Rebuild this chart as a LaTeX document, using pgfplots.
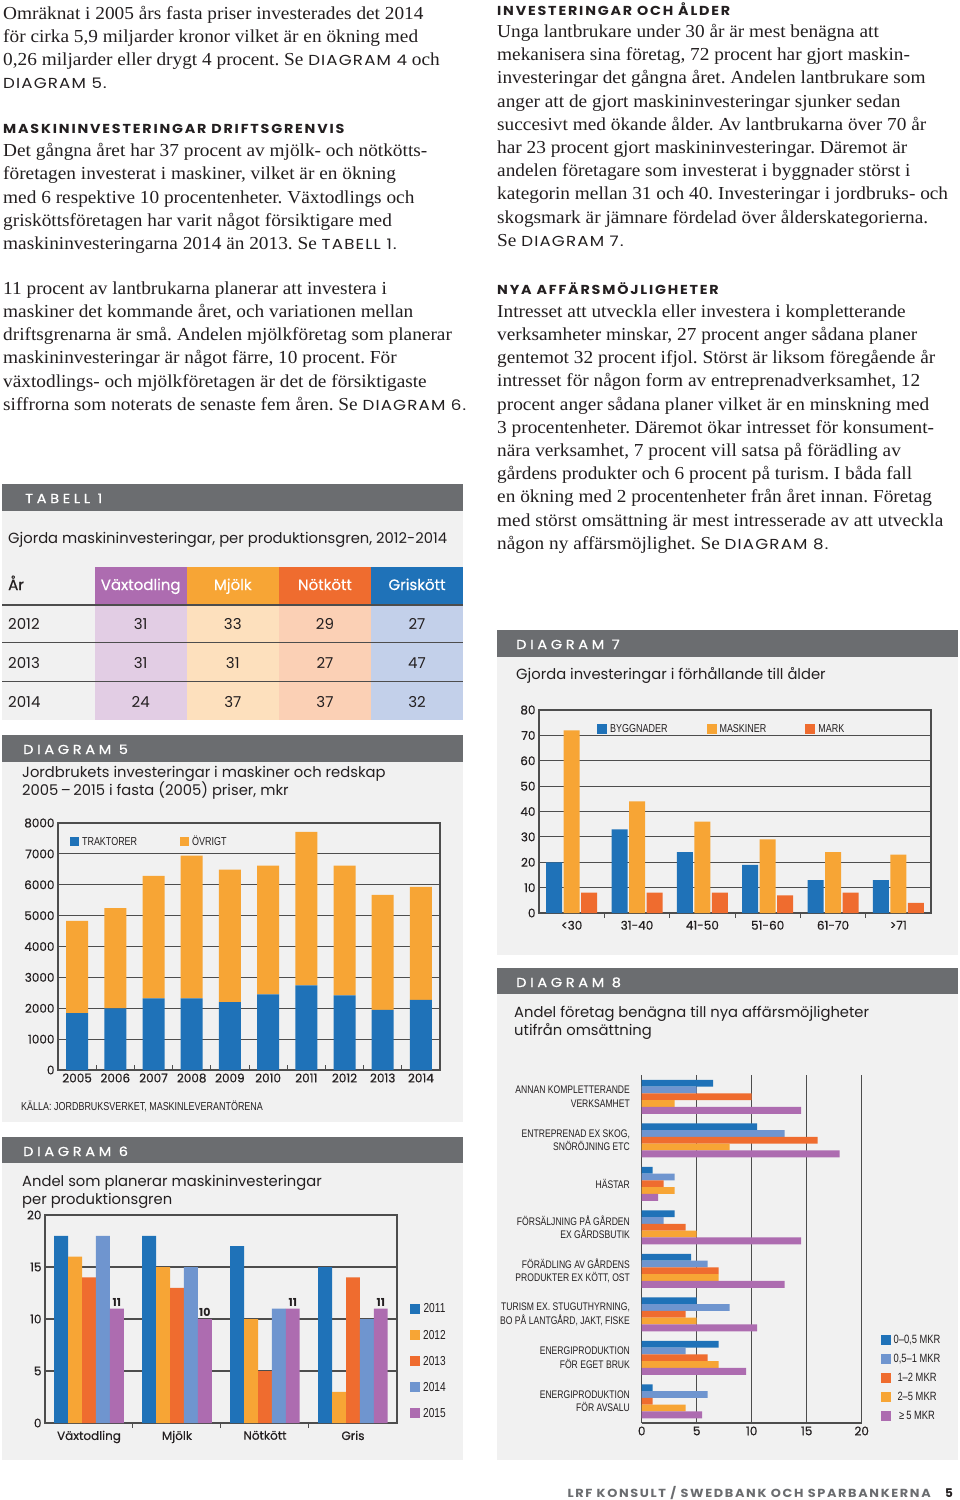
\documentclass[border=0pt]{standalone}
\usepackage{fontspec}
\usepackage{pgfplots}
\pgfplotsset{compat=1.18}
\setmainfont{Liberation Serif}[FakeStretch=1.055]
\setsansfont{Poppins}
\newfontfamily\condfont[FakeStretch=0.78]{Liberation Sans}
\newfontfamily\medfont[FakeBold=0.5]{Poppins}
\newfontfamily\headfont[LetterSpace=14,FakeStretch=1.1]{Poppins}
\newfontfamily\bandfont[LetterSpace=28,FakeBold=0.6,FakeStretch=1.12]{Poppins}
\newfontfamily\reffont[LetterSpace=8,FakeStretch=1.15]{Poppins}

\definecolor{cblue}{HTML}{1F72B8}
\definecolor{corange}{HTML}{F7A535}
\definecolor{cred}{HTML}{EF6C2F}
\definecolor{clblue}{HTML}{6F95CF}
\definecolor{cpurple}{HTML}{AD6CB0}
\definecolor{band}{HTML}{6B6D70}
\definecolor{panel}{HTML}{F1F1F1}
\definecolor{tpurple}{HTML}{E2CDE4}
\definecolor{torange}{HTML}{FDE0BD}
\definecolor{tpeach}{HTML}{FBD0B5}
\definecolor{tblue}{HTML}{C3D0EA}
\definecolor{gridc}{HTML}{4D4D4D}
\definecolor{txt}{HTML}{231F20}

\frenchspacing
\newcommand{\bodyfont}{\fontsize{18.3}{21}\selectfont}
\newcommand{\dref}[1]{{\reffont\fontsize{14.5}{16}\selectfont #1}}
\newcommand{\tl}[3]{\node[anchor=base west,inner sep=0pt,text=txt,font=\bodyfont] at (#1pt,-#2pt) {#3};}
\newcommand{\hd}[3]{\node[anchor=base west,inner sep=0pt,text=txt,font=\headfont\bfseries\fontsize{13}{15}\selectfont] at (#1pt,-#2pt) {#3};}
\newcommand{\sub}[3]{\node[anchor=base west,inner sep=0pt,text=txt,font=\sffamily\fontsize{14.75}{17}\selectfont] at (#1pt,-#2pt) {#3};}
\newcommand{\bandtxt}[3]{\node[anchor=base west,inner sep=0pt,text=white,font=\bandfont\fontsize{13}{15}\selectfont] at (#1pt,-#2pt) {#3};}
\newcommand{\tnum}[3]{\node[anchor=base,inner sep=0pt,text=txt,font=\sffamily\fontsize{15}{18}\selectfont] at (#1pt,-#2pt) {#3};}
\newcommand{\thd}[3]{\node[anchor=base,inner sep=0pt,text=white,font=\medfont\fontsize{15}{18}\selectfont] at (#1pt,-#2pt) {#3};}

\pgfplotsset{
  page/.style={
    scale only axis,
    anchor=south west,
    axis line style={gridc,line width=1.2pt},
    grid style={gridc,line width=1.2pt},
    tick style={gridc,line width=1pt},
    ticklabel style={font=\medfont\fontsize{12}{14}\selectfont,text=txt},
    /pgf/number format/assume math mode=true,
    /pgf/number format/1000 sep={},
    legend style={draw=none,fill=none,inner sep=0pt,font=\condfont\fontsize{11.5}{13}\selectfont,text=txt},
  }
}

\begin{document}
\begin{tikzpicture}
\useasboundingbox (0pt,0pt) rectangle (960pt,-1500pt);
\fill[white] (0pt,0pt) rectangle (960pt,-1500pt);

% ---------- left column text
\tl{3}{19}{Omräknat i 2005 års fasta priser investerades det 2014}
\tl{3}{42.2}{för cirka 5,9 miljarder kronor vilket är en ökning med}
\tl{3}{65.4}{0,26 miljarder eller drygt 4 procent. Se \dref{DIAGRAM 4} och}
\tl{3}{88.3}{\dref{DIAGRAM 5.}}
\hd{3}{133.5}{MASKININVESTERINGAR DRIFTSGRENVIS}
\tl{3}{156.7}{Det gångna året har 37 procent av mjölk- och nötkötts-}
\tl{3}{179.9}{företagen investerat i maskiner, vilket är en ökning}
\tl{3}{203.1}{med 6 respektive 10 procentenheter. Växtodlings och}
\tl{3}{226.3}{grisköttsföretagen har varit något försiktigare med}
\tl{3}{249.5}{maskininvesteringarna 2014 än 2013. Se \dref{TABELL 1.}}
\tl{3}{294.3}{11 procent av lantbrukarna planerar att investera i}
\tl{3}{317.5}{maskiner det kommande året, och variationen mellan}
\tl{3}{340.7}{driftsgrenarna är små. Andelen mjölkföretag som planerar}
\tl{3}{363.9}{maskininvesteringar är något färre, 10 procent. För}
\tl{3}{387.1}{växtodlings- och mjölkföretagen är det de försiktigaste}
\tl{3}{410.3}{siffrorna som noterats de senaste fem åren. Se \dref{DIAGRAM 6.}}

% ---------- right column text
\hd{497}{15}{INVESTERINGAR OCH ÅLDER}
\tl{497}{37.5}{Unga lantbrukare under 30 år är mest benägna att}
\tl{497}{60.7}{mekanisera sina företag, 72 procent har gjort maskin-}
\tl{497}{83.9}{investeringar det gångna året. Andelen lantbrukare som}
\tl{497}{107.1}{anger att de gjort maskininvesteringar sjunker sedan}
\tl{497}{130.3}{succesivt med ökande ålder. Av lantbrukarna över 70 år}
\tl{497}{153.5}{har 23 procent gjort maskininvesteringar. Däremot är}
\tl{497}{176.7}{andelen företagare som investerat i byggnader störst i}
\tl{497}{199.9}{kategorin mellan 31 och 40. Investeringar i jordbruks- och}
\tl{497}{223.1}{skogsmark är jämnare fördelad över ålderskategorierna.}
\tl{497}{246.3}{Se \dref{DIAGRAM 7.}}
\hd{497}{294}{NYA AFFÄRSMÖJLIGHETER}
\tl{497}{317.3}{Intresset att utveckla eller investera i kompletterande}
\tl{497}{340.5}{verksamheter minskar, 27 procent anger sådana planer}
\tl{497}{363.7}{gentemot 32 procent ifjol. Störst är liksom föregående år}
\tl{497}{386.9}{intresset för någon form av entreprenadverksamhet, 12}
\tl{497}{410.1}{procent anger sådana planer vilket är en minskning med}
\tl{497}{433.3}{3 procentenheter. Däremot ökar intresset för konsument-}
\tl{497}{456.5}{nära verksamhet, 7 procent vill satsa på förädling av}
\tl{497}{479.7}{gårdens produkter och 6 procent på turism. I båda fall}
\tl{497}{502.9}{en ökning med 2 procentenheter från året innan. Företag}
\tl{497}{526.1}{med störst omsättning är mest intresserade av att utveckla}
\tl{497}{549.3}{någon ny affärsmöjlighet. Se \dref{DIAGRAM 8.}}

% ---------- table 1
\fill[panel] (2pt,-511pt) rectangle (463pt,-720pt);
\fill[band] (2pt,-484pt) rectangle (463pt,-511pt);
\bandtxt{25}{503}{TABELL 1}
\sub{8}{543}{Gjorda maskininvesteringar, per produktionsgren, 2012-2014}
\fill[cpurple] (95pt,-567pt) rectangle (186.5pt,-605pt);
\fill[corange] (186.5pt,-567pt) rectangle (279pt,-605pt);
\fill[cred] (279pt,-567pt) rectangle (371pt,-605pt);
\fill[cblue] (371pt,-567pt) rectangle (463pt,-605pt);
\fill[tpurple] (95pt,-605pt) rectangle (186.5pt,-720pt);
\fill[torange] (186.5pt,-605pt) rectangle (279pt,-720pt);
\fill[tpeach] (279pt,-605pt) rectangle (371pt,-720pt);
\fill[tblue] (371pt,-605pt) rectangle (463pt,-720pt);
\node[anchor=base west,inner sep=0pt,text=txt,font=\medfont\fontsize{15}{18}\selectfont] at (8pt,-590pt) {År};
\thd{140.7}{590}{Växtodling}
\thd{232.8}{590}{Mjölk}
\thd{325}{590}{Nötkött}
\thd{417}{590}{Griskött}
\draw[gridc,line width=1.4pt] (2pt,-605pt) -- (463pt,-605pt);
\draw[gridc,line width=1.4pt] (2pt,-642.7pt) -- (463pt,-642.7pt);
\draw[gridc,line width=1.4pt] (2pt,-681.3pt) -- (463pt,-681.3pt);
\node[anchor=base west,inner sep=0pt,text=txt,font=\sffamily\fontsize{15}{18}\selectfont] at (8pt,-629pt) {2012};
\node[anchor=base west,inner sep=0pt,text=txt,font=\sffamily\fontsize{15}{18}\selectfont] at (8pt,-668pt) {2013};
\node[anchor=base west,inner sep=0pt,text=txt,font=\sffamily\fontsize{15}{18}\selectfont] at (8pt,-707pt) {2014};
\tnum{140.7}{629}{31}\tnum{232.8}{629}{33}\tnum{325}{629}{29}\tnum{417}{629}{27}
\tnum{140.7}{668}{31}\tnum{232.8}{668}{31}\tnum{325}{668}{27}\tnum{417}{668}{47}
\tnum{140.7}{707}{24}\tnum{232.8}{707}{37}\tnum{325}{707}{37}\tnum{417}{707}{32}

% ---------- panels
\fill[panel] (2pt,-762pt) rectangle (463pt,-1122pt);
\fill[band] (2pt,-735pt) rectangle (463pt,-762pt);
\bandtxt{23}{754}{DIAGRAM 5}
\sub{22}{777.5}{Jordbrukets investeringar i maskiner och redskap}
\sub{22}{795.5}{2005\,–\,2015 i fasta (2005) priser, mkr}
\node[anchor=base west,inner sep=0pt,text=txt,font=\condfont\fontsize{11.5}{13}\selectfont] at (21pt,-1110pt) {KÄLLA: JORDBRUKSVERKET, MASKINLEVERANTÖRENA};

\fill[panel] (2pt,-1163pt) rectangle (463pt,-1460pt);
\fill[band] (2pt,-1137pt) rectangle (463pt,-1163pt);
\bandtxt{23}{1156}{DIAGRAM 6}
\sub{22}{1186.5}{Andel som planerar maskininvesteringar}
\sub{22}{1204.5}{per produktionsgren}

\fill[panel] (497pt,-657pt) rectangle (958pt,-955pt);
\fill[band] (497pt,-630pt) rectangle (958pt,-657pt);
\bandtxt{516}{649}{DIAGRAM 7}
\sub{516}{679.3}{Gjorda investeringar i förhållande till ålder}

\fill[panel] (497pt,-994pt) rectangle (958pt,-1460pt);
\fill[band] (497pt,-968pt) rectangle (958pt,-994pt);
\bandtxt{516}{987}{DIAGRAM 8}
\sub{514}{1017.5}{Andel företag benägna till nya affärsmöjligheter}
\sub{514}{1035.5}{utifrån omsättning}

% ---------- Diagram 5
\begin{axis}[page, at={(58pt,-1070pt)}, width=382pt, height=247pt,
  ybar stacked, bar width=22pt,
  xmin=-0.5, xmax=9.5, ymin=0, ymax=8000,
  ytick={0,1000,...,8000}, ymajorgrids, ytick style={draw=none},
  xtick={0,...,9}, xticklabels={2005,2006,2007,2008,2009,2010,2011,2012,2013,2014},
  major x tick style={draw=none},
  minor xtick={0.5,1.5,...,8.5}, minor tick length=5pt,
  xtick pos=bottom,
  legend columns=2,
  legend style={at={(0.031,0.955)},anchor=north west,
    /tikz/every even column/.append style={column sep=40pt}},
  legend image code/.code={\fill[#1] (0pt,-4.5pt) rectangle (9pt,4.5pt);},
  legend style={nodes={inner xsep=3pt}},
]
\addplot[fill=cblue,draw=none] coordinates {(0,1840) (1,2000) (2,2320) (3,2320) (4,2200) (5,2450) (6,2740) (7,2420) (8,1950) (9,2270)};
\addplot[fill=corange,draw=none] coordinates {(0,2990) (1,3240) (2,3970) (3,4620) (4,4290) (5,4170) (6,4970) (7,4200) (8,3720) (9,3660)};
\legend{TRAKTORER,ÖVRIGT}
\end{axis}

% ---------- Diagram 6
\begin{axis}[page, at={(45pt,-1423pt)}, width=352pt, height=208pt,
  ybar=0pt, bar width=13.9pt,
  xmin=-0.5, xmax=3.5, ymin=0, ymax=20,
  ytick={0,5,...,20}, ymajorgrids, ytick style={draw=none},
  xtick={0,...,3}, xticklabels={Växtodling,Mjölk,Nötkött,Gris},
  major x tick style={draw=none},
  minor xtick={0.5,1.5,2.5}, minor tick length=5pt,
  xtick pos=bottom,
  legend style={at={(1.037,0.01)},anchor=south west,row sep=11.5pt,
     font=\condfont\fontsize{13}{14}\selectfont, nodes={inner xsep=3pt}},
  legend image code/.code={\fill[#1] (0pt,-5pt) rectangle (10pt,5pt);},
]
\addplot[fill=cblue,draw=none] coordinates {(0,18) (1,18) (2,17) (3,15)};
\addplot[fill=corange,draw=none] coordinates {(0,16) (1,15) (2,10) (3,3)};
\addplot[fill=cred,draw=none] coordinates {(0,14) (1,13) (2,5) (3,14)};
\addplot[fill=clblue,draw=none] coordinates {(0,18) (1,15) (2,11) (3,10)};
\addplot[fill=cpurple,draw=none,nodes near coords,
  nodes near coords style={font=\sffamily\bfseries\fontsize{11}{12}\selectfont,text=txt,inner sep=2pt}]
  coordinates {(0,11) (1,10) (2,11) (3,11)};
\legend{2011,2012,2013,2014,2015}
\end{axis}

% ---------- Diagram 7
\begin{axis}[page, at={(539pt,-913pt)}, width=392pt, height=203pt,
  ybar=1.5pt, bar width=16pt,
  xmin=-0.5, xmax=5.5, ymin=0, ymax=80,
  ytick={0,10,...,80}, ymajorgrids, ytick style={draw=none},
  xtick={0,...,5}, xticklabels={<30,31-40,41-50,51-60,61-70,>71},
  major x tick style={draw=none},
  minor xtick={0.5,1.5,...,4.5}, minor tick length=5pt,
  xtick pos=bottom,
  legend columns=3,
  legend style={at={(0.148,0.94)},anchor=north west,
    /tikz/every even column/.append style={column sep=36pt}, nodes={inner xsep=3pt}},
  legend image code/.code={\fill[#1] (0pt,-5pt) rectangle (10pt,5pt);},
]
\addplot[fill=cblue,draw=none] coordinates {(0,20) (1,33) (2,24) (3,19) (4,13) (5,13)};
\addplot[fill=corange,draw=none] coordinates {(0,72) (1,44) (2,36) (3,29) (4,24) (5,23)};
\addplot[fill=cred,draw=none] coordinates {(0,8) (1,8) (2,8) (3,7) (4,8) (5,4)};
\legend{BYGGNADER,MASKINER,MARK}
\end{axis}

% ---------- Diagram 8
\begin{axis}[page, at={(641.7pt,-1423pt)}, width=220pt, height=348pt,
  xbar, bar width=6.8pt,
  xmin=0, xmax=20, ymin=-0.5, ymax=7.5,
  axis x line*=bottom, axis y line*=left,
  xtick={0,5,...,20}, xmajorgrids, tick style={draw=none},
  ytick={0,...,7},
  yticklabels={{ENERGIPRODUKTION\\FÖR AVSALU},{ENERGIPRODUKTION\\FÖR EGET BRUK},{TURISM EX. STUGUTHYRNING,\\BO PÅ LANTGÅRD, JAKT, FISKE},{FÖRÄDLING AV GÅRDENS\\PRODUKTER EX KÖTT, OST},{FÖRSÄLJNING PÅ GÅRDEN\\EX GÅRDSBUTIK},{HÄSTAR},{ENTREPRENAD EX SKOG,\\SNÖRÖJNING ETC},{ANNAN KOMPLETTERANDE\\VERKSAMHET}},
  yticklabel style={align=right,font=\condfont\fontsize{11}{13.5}\selectfont,xshift=-4pt},
  legend style={at={(1.085,0)},anchor=south west,row sep=5pt,
     font=\condfont\fontsize{12}{13}\selectfont, nodes={inner xsep=3pt}},
  legend image code/.code={\fill[#1] (0pt,-5pt) rectangle (10pt,5pt);},
]
\addplot[fill=cblue,draw=none,bar shift=13.6pt] coordinates {(1,0) (7,1) (5,2) (4.5,3) (3,4) (1,5) (10.5,6) (6.5,7)};
\addplot[fill=clblue,draw=none,bar shift=6.8pt] coordinates {(6,0) (4,1) (8,2) (6,3) (2,4) (3,5) (13,6) (5,7)};
\addplot[fill=cred,draw=none,bar shift=0pt] coordinates {(1,0) (6,1) (4,2) (7,3) (4,4) (2,5) (16,6) (10,7)};
\addplot[fill=corange,draw=none,bar shift=-6.8pt] coordinates {(4,0) (7,1) (5,2) (7,3) (5,4) (3,5) (8,6) (3,7)};
\addplot[fill=cpurple,draw=none,bar shift=-13.6pt] coordinates {(5.5,0) (9.5,1) (10.5,2) (13,3) (14.5,4) (1.5,5) (18,6) (14.5,7)};
\legend{{0–0,5 MKR},{0,5–1 MKR},{1–2 MKR},{2–5 MKR},{≥\,5 MKR}}
\end{axis}

% ---------- footer
\node[anchor=base east,inner sep=0pt,text=band,font=\headfont\bfseries\fontsize{11.7}{14}\selectfont] at (931pt,-1497pt) {LRF KONSULT / SWEDBANK OCH SPARBANKERNA};
\node[anchor=base west,inner sep=0pt,text=txt,font=\sffamily\bfseries\fontsize{12}{14}\selectfont] at (945pt,-1497pt) {5};
\end{tikzpicture}
\end{document}
